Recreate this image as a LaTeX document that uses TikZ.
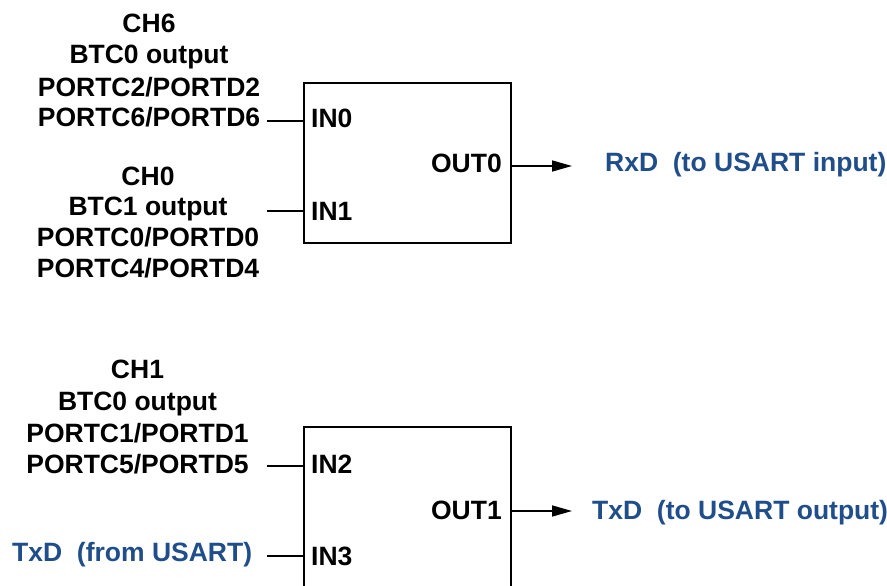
\documentclass[tikz,border=0pt]{standalone}
\usepackage{fontspec}
\setmainfont{Liberation Sans}
\usetikzlibrary{arrows.meta}
\definecolor{usartblue}{HTML}{1F4E8B}
\begin{document}
\begin{tikzpicture}[x=1pt,y=-1pt,
  lbl/.style={inner sep=0pt, anchor=base, font=\fontsize{26.5}{31}\selectfont\bfseries},
  bluelbl/.style={lbl, text=usartblue},
  muxbox/.style={draw, line width=1.6pt, minimum width=207pt, inner sep=0pt},
  wire/.style={line width=1.6pt},
  outarrow/.style={wire, -{Triangle[length=20pt,width=11pt]}}]
\useasboundingbox (0,0) rectangle (887,586);
\clip (0,0) rectangle (887,586);

% ---- upper multiplexer ----
\node[muxbox, minimum height=160pt] (box1) at (407.5,163) {};
\node[lbl, anchor=base west] (in0) at (311,128) {IN0};
\node[lbl, anchor=base west] (in1) at (311,220) {IN1};
\node[lbl, anchor=base east] (out0) at (502,172) {OUT0};

\node[lbl] (t1) at (149,33) {CH6};
\node[lbl] (t2) at (149,64) {BTC0 output};
\node[lbl] (t3) at (149,96) {PORTC2/PORTD2};
\node[lbl] (t4) at (149,127) {PORTC6/PORTD6};
\node[lbl] (t5) at (148,185) {CH0};
\node[lbl] (t6) at (148,215) {BTC1 output};
\node[lbl] (t7) at (148,246) {PORTC0/PORTD0};
\node[lbl] (t8) at (148,277) {PORTC4/PORTD4};

\coordinate (w0) at (267,121);
\coordinate (w1) at (267,211);
\draw[wire] (w0) -- (w0 -| box1.west);
\draw[wire] (w1) -- (w1 -| box1.west);

\coordinate (r0) at (572,166);
\draw[outarrow] (box1.east |- r0) -- (r0);
\node[bluelbl, anchor=base west] (rxd) at (605,171) {RxD\ \ (to USART input)};

% ---- lower multiplexer ----
\node[muxbox, minimum height=213pt] (box2) at (407.5,533.5) {};
\node[lbl, anchor=base west] (in2) at (311,473) {IN2};
\node[lbl, anchor=base west] (in3) at (311,565) {IN3};
\node[lbl, anchor=base east] (out1) at (502,519) {OUT1};

\node[lbl] (b1) at (137.5,378) {CH1};
\node[lbl] (b2) at (137.5,410) {BTC0 output};
\node[lbl] (b3) at (137.5,442) {PORTC1/PORTD1};
\node[lbl] (b4) at (137.5,473) {PORTC5/PORTD5};
\node[bluelbl, anchor=base west] (txdin) at (12,561) {TxD\ \ (from USART)};

\coordinate (w2) at (267,466);
\coordinate (w3) at (267,556);
\draw[wire] (w2) -- (w2 -| box2.west);
\draw[wire] (w3) -- (w3 -| box2.west);

\coordinate (r1) at (572,511);
\draw[outarrow] (box2.east |- r1) -- (r1);
\node[bluelbl, anchor=base west] (txdout) at (592,519) {TxD\ \ (to USART output)};
\end{tikzpicture}
\end{document}
